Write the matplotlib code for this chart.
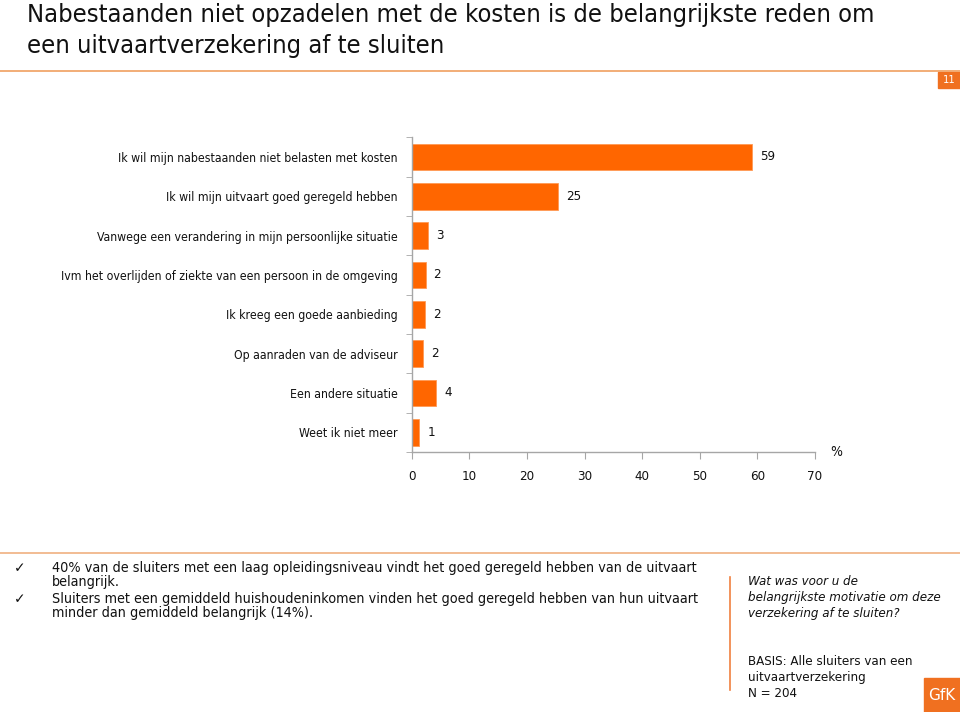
import matplotlib
matplotlib.use('Agg')
import matplotlib.pyplot as plt
from matplotlib.patches import Rectangle
from matplotlib.lines import Line2D
import numpy as np

plt.rcParams['font.family'] = ['DejaVu Sans']

categories = [
    'Ik wil mijn nabestaanden niet belasten met kosten',
    'Ik wil mijn uitvaart goed geregeld hebben',
    'Vanwege een verandering in mijn persoonlijke situatie',
    'Ivm het overlijden of ziekte van een persoon in de omgeving',
    'Ik kreeg een goede aanbieding',
    'Op aanraden van de adviseur',
    'Een andere situatie',
    'Weet ik niet meer',
]
values = [59.0, 25.4, 2.9, 2.4, 2.3, 1.9, 4.3, 1.3]
labels = ['59', '25', '3', '2', '2', '2', '4', '1']
xticks = [0, 10, 20, 30, 40, 50, 60, 70]

title = ('Nabestaanden niet opzadelen met de kosten is de belangrijkste reden om\n'
         'een uitvaartverzekering af te sluiten')
bullets = [
    '40% van de sluiters met een laag opleidingsniveau vindt het goed geregeld hebben van de uitvaart\nbelangrijk.',
    'Sluiters met een gemiddeld huishoudeninkomen vinden het goed geregeld hebben van hun uitvaart\nminder dan gemiddeld belangrijk (14%).',
]
question = 'Wat was voor u de\nbelangrijkste motivatie om deze\nverzekering af te sluiten?'
basis = 'BASIS: Alle sluiters van een\nuitvaartverzekering\nN = 204'

ORANGE = '#ff6600'
AXIS = '#a6a6a6'
W, H = 960, 712

fig = plt.figure(figsize=(9.6, 7.12), dpi=100)
fig.patch.set_facecolor('white')


def fx(px):
    return px / W


def fy(py):
    return 1 - py / H


# header
fig.text(fx(27), fy(3), title, ha='left', va='top', fontsize=18.3,
         color='#111111', linespacing=1.35, fontstretch='condensed')
fig.add_artist(Line2D([0, 1], [fy(71), fy(71)], color='#f0a060', lw=1.2))
fig.add_artist(Rectangle((fx(938), fy(88)), fx(22), 16 / H, color='#f07020'))
fig.text(fx(949), fy(80), '11', ha='center', va='center', fontsize=8,
         color='white', fontstretch='condensed')

# bar chart
ax = fig.add_axes([fx(411.7), fy(452), fx(815 - 411.7), (452 - 137.3) / H])
y = np.arange(len(categories))
ax.barh(y, values, height=0.68, color=ORANGE, edgecolor='#ff9a55', linewidth=0.6)
for yi, v, lab in zip(y, values, labels):
    ax.text(v + 1.4, yi, lab, ha='left', va='center', fontsize=9.5,
            color='#111111', fontstretch='condensed')

ax.set_ylim(len(categories) - 0.5, -0.5)
ax.set_xlim(0, 70)
ax.set_xticks(xticks)
ax.set_xticklabels([str(t) for t in xticks], fontsize=9.5, color='#111111',
                   fontstretch='condensed')
ax.set_yticks(y)
ax.set_yticklabels(categories, fontsize=8.8, color='#111111', fontstretch='condensed')
ax.set_yticks(np.arange(-0.5, len(categories), 1), minor=True)
ax.tick_params(axis='y', which='major', length=0, pad=10)
ax.tick_params(axis='y', which='minor', length=4, color=AXIS, direction='out')
ax.tick_params(axis='x', length=5, color=AXIS, direction='out', pad=8)
for s in ['top', 'right']:
    ax.spines[s].set_visible(False)
for s in ['left', 'bottom']:
    ax.spines[s].set_color(AXIS)
    ax.spines[s].set_linewidth(1)
fig.text(fx(836), fy(452), '%', ha='center', va='center', fontsize=10,
         color='#111111', fontstretch='condensed')

# bottom section
fig.add_artist(Line2D([0, 1], [fy(553), fy(553)], color='#f0b080', lw=1.2))
bullet_y = [561, 592]
for by, txt in zip(bullet_y, bullets):
    fig.text(fx(14), fy(by), '\u2713', ha='left', va='top', fontsize=10, color='#111111')
    fig.text(fx(52), fy(by), txt, ha='left', va='top', fontsize=10.3,
             color='#111111', linespacing=1.0, fontstretch='condensed')

fig.add_artist(Line2D([fx(730), fx(730)], [fy(577), fy(690)], color='#f08040', lw=1.2))
fig.text(fx(748), fy(575), question, ha='left', va='top', fontsize=9.5,
         style='italic', color='#111111', linespacing=1.3, fontstretch='condensed')
fig.text(fx(748), fy(655), basis, ha='left', va='top', fontsize=9.5,
         color='#111111', linespacing=1.3, fontstretch='condensed')

fig.add_artist(Rectangle((fx(924), 0), fx(36), 34 / H, color='#f07020'))
fig.text(fx(942), fy(695), 'GfK', ha='center', va='center', fontsize=11, color='white')

fig.savefig('out.png', dpi=100, facecolor='white')
